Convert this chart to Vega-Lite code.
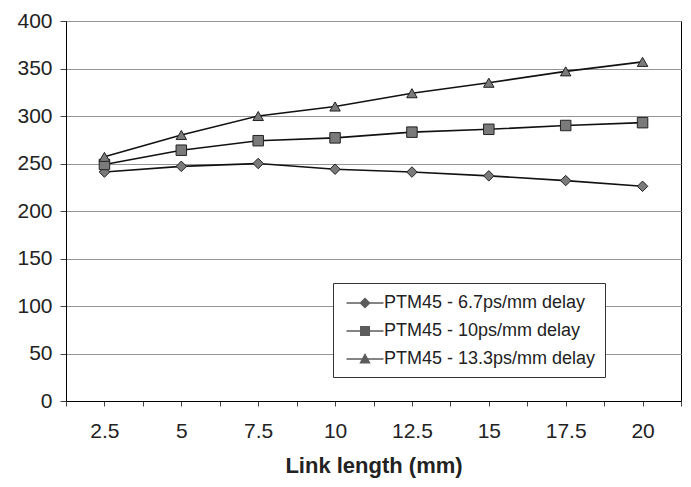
{
  "$schema": "https://vega.github.io/schema/vega-lite/v6.json",
  "width": 615,
  "height": 380,
  "autosize": {"type": "none"},
  "padding": {"left": 66, "top": 21, "right": 10, "bottom": 86},
  "background": "white",
  "config": {
    "font": "Liberation Sans",
    "view": {"stroke": "black", "strokeWidth": 1}
  },
  "data": {
    "values": [
      {"len": 2.5, "power": 241, "series": "PTM45 - 6.7ps/mm delay"},
      {"len": 5, "power": 247, "series": "PTM45 - 6.7ps/mm delay"},
      {"len": 7.5, "power": 250, "series": "PTM45 - 6.7ps/mm delay"},
      {"len": 10, "power": 244, "series": "PTM45 - 6.7ps/mm delay"},
      {"len": 12.5, "power": 241, "series": "PTM45 - 6.7ps/mm delay"},
      {"len": 15, "power": 237, "series": "PTM45 - 6.7ps/mm delay"},
      {"len": 17.5, "power": 232, "series": "PTM45 - 6.7ps/mm delay"},
      {"len": 20, "power": 226, "series": "PTM45 - 6.7ps/mm delay"},
      {"len": 2.5, "power": 249, "series": "PTM45 - 10ps/mm delay"},
      {"len": 5, "power": 264, "series": "PTM45 - 10ps/mm delay"},
      {"len": 7.5, "power": 274, "series": "PTM45 - 10ps/mm delay"},
      {"len": 10, "power": 277, "series": "PTM45 - 10ps/mm delay"},
      {"len": 12.5, "power": 283, "series": "PTM45 - 10ps/mm delay"},
      {"len": 15, "power": 286, "series": "PTM45 - 10ps/mm delay"},
      {"len": 17.5, "power": 290, "series": "PTM45 - 10ps/mm delay"},
      {"len": 20, "power": 293, "series": "PTM45 - 10ps/mm delay"},
      {"len": 2.5, "power": 257, "series": "PTM45 - 13.3ps/mm delay"},
      {"len": 5, "power": 280, "series": "PTM45 - 13.3ps/mm delay"},
      {"len": 7.5, "power": 300, "series": "PTM45 - 13.3ps/mm delay"},
      {"len": 10, "power": 310, "series": "PTM45 - 13.3ps/mm delay"},
      {"len": 12.5, "power": 324, "series": "PTM45 - 13.3ps/mm delay"},
      {"len": 15, "power": 335, "series": "PTM45 - 13.3ps/mm delay"},
      {"len": 17.5, "power": 347, "series": "PTM45 - 13.3ps/mm delay"},
      {"len": 20, "power": 357, "series": "PTM45 - 13.3ps/mm delay"}
    ]
  },
  "encoding": {
    "x": {
      "field": "len",
      "type": "quantitative",
      "scale": {"domain": [1.25, 21.25], "nice": false, "zero": false},
      "axis": {
        "title": "Link length (mm)",
        "titleFont": "Liberation Sans",
        "titleFontSize": 22,
        "titleFontWeight": "bold",
        "titleColor": "#222",
        "titlePadding": 14,
        "values": [1.25, 2.5, 3.75, 5, 6.25, 7.5, 8.75, 10, 11.25, 12.5, 13.75, 15, 16.25, 17.5, 18.75, 20, 21.25],
        "labelExpr": "(datum.value % 2.5 == 0) ? format(datum.value, '~g') : ''",
        "labelFontSize": 21,
        "labelColor": "#222",
        "labelPadding": 14,
        "labelOverlap": false,
        "labelFlush": false,
        "grid": false,
        "tickSize": 5,
        "tickColor": "#444",
        "domainColor": "black"
      }
    },
    "y": {
      "field": "power",
      "type": "quantitative",
      "scale": {"domain": [0, 400], "nice": false},
      "axis": {
        "title": null,
        "values": [0, 50, 100, 150, 200, 250, 300, 350, 400],
        "labelFontSize": 21,
        "labelColor": "#222",
        "labelPadding": 8,
        "tickSize": 6,
        "tickColor": "#444",
        "domainColor": "black",
        "grid": true,
        "gridColor": "#959595",
        "gridWidth": 1
      }
    }
  },
  "layer": [
    {
      "mark": {"type": "line", "color": "#111", "strokeWidth": 1.6},
      "encoding": {"detail": {"field": "series"}}
    },
    {
      "mark": {"type": "point", "filled": true, "fill": "#7a7a7a", "stroke": "#222", "strokeWidth": 1, "size": 110, "opacity": 1},
      "encoding": {
        "shape": {
          "field": "series",
          "type": "nominal",
          "scale": {
            "domain": ["PTM45 - 6.7ps/mm delay", "PTM45 - 10ps/mm delay", "PTM45 - 13.3ps/mm delay"],
            "range": ["diamond", "square", "triangle-up"]
          },
          "legend": null
        }
      }
    },
    {
      "transform": [{"filter": "false"}],
      "mark": {"type": "point", "filled": true, "fill": "#5c5c5c", "size": 400, "opacity": 1},
      "encoding": {
        "shape": {
          "field": "series",
          "type": "nominal",
          "scale": {
            "domain": ["PTM45 - 6.7ps/mm delay", "PTM45 - 10ps/mm delay", "PTM45 - 13.3ps/mm delay"],
            "range": ["M-1.85,-0.075H1.85V0.075H-1.85Z M0,-0.56L0.56,0L0,0.56L-0.56,0Z", "M-1.85,-0.075H1.85V0.075H-1.85Z M-0.5,-0.5H0.5V0.5H-0.5Z", "M-1.85,-0.075H1.85V0.075H-1.85Z M0,-0.6L0.57,0.46H-0.57Z"]
          },
          "legend": {
            "title": null,
            "orient": "none",
            "legendX": 267,
            "legendY": 262,
            "padding": 9,
            "fillColor": "white",
            "strokeColor": "#333",
            "labelFontSize": 18,
            "labelColor": "#222",
            "labelOffset": 8,
            "labelLimit": 400,
            "symbolSize": 400,
            "symbolOffset": 12,
            "rowPadding": 8,
            "symbolFillColor": "#5c5c5c",
            "symbolOpacity": 1
          }
        }
      }
    }
  ],
  "resolve": {"scale": {"shape": "independent"}, "legend": {"shape": "independent"}}
}
